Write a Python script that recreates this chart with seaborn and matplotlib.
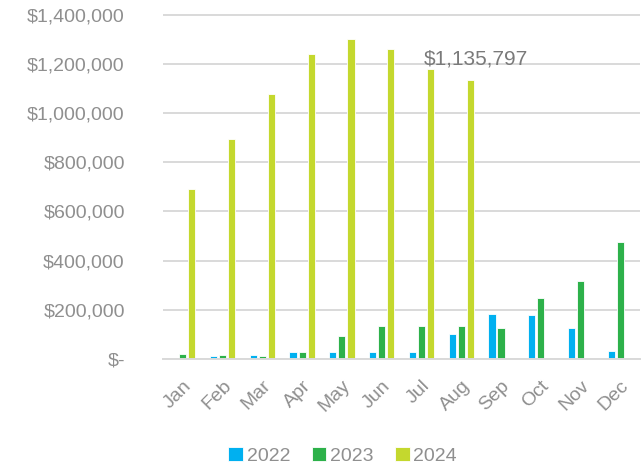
import pandas as pd
import numpy as np
import seaborn as sns
import matplotlib.pyplot as plt
from matplotlib.ticker import FuncFormatter

months = ['Jan', 'Feb', 'Mar', 'Apr', 'May', 'Jun', 'Jul', 'Aug', 'Sep', 'Oct', 'Nov', 'Dec']
sales_2022 = [3000, 12000, 18000, 30000, 28000, 28000, 28000, 101000, 181000, 177000, 125000, 31000]
sales_2023 = [20000, 18000, 12000, 27000, 94000, 135000, 133000, 133000, 127000, 246000, 318000, 476000]
sales_2024 = [690000, 893000, 1079000, 1238000, 1299000, 1259000, 1177000, 1135797,
              np.nan, np.nan, np.nan, np.nan]
years = ['2022', '2023', '2024']
colors = ['#00B0F0', '#2DB14A', '#C4D82E']
label_text = '$1,135,797'

df = pd.DataFrame({
    'Month': months * 3,
    'Year': ['2022'] * 12 + ['2023'] * 12 + ['2024'] * 12,
    'Sales': sales_2022 + sales_2023 + sales_2024,
})

sns.set_style('white')
plt.rcParams['font.family'] = ['Liberation Sans', 'DejaVu Sans']
gray = '#8f8f8f'

fig = plt.figure(figsize=(6.44, 4.69), dpi=100)
ax = fig.add_axes([0.253, 0.2345, 0.741, 0.7355])

sns.barplot(data=df, x='Month', y='Sales', hue='Year', hue_order=years,
            palette=colors, width=0.68, gap=0.2, ax=ax,
            edgecolor='white', linewidth=0.6, saturation=1, legend=True)

ax.set_ylim(0, 1402000)
ax.set_xlim(-0.5, 11.5)
ax.set_yticks(np.arange(0, 1400001, 200000))
ax.yaxis.set_major_formatter(FuncFormatter(lambda v, p: '$-' if v == 0 else f'${v:,.0f}'))
ax.grid(axis='y', color='#d9d9d9', linewidth=1.4)
ax.set_axisbelow(True)
for s in ['top', 'right', 'left']:
    ax.spines[s].set_visible(False)
ax.spines['bottom'].set_color('#d9d9d9')
ax.spines['bottom'].set_linewidth(1.4)

ax.tick_params(axis='y', length=0, pad=27.5, labelsize=14, labelcolor=gray)
ax.tick_params(axis='x', length=0, pad=13, labelsize=14, labelcolor=gray)
plt.setp(ax.get_xticklabels(), rotation=45, ha='right', rotation_mode='anchor')
ax.set_xlabel('')
ax.set_ylabel('')

ax.text(7.37, 1180000, label_text, ha='center', va='bottom', fontsize=15, color='#7a7a7a')

handles, labels = ax.get_legend_handles_labels()
ax.legend(handles, labels, loc='center', bbox_to_anchor=(0.532, 0.028), bbox_transform=fig.transFigure,
          ncol=3, frameon=False, fontsize=14, labelcolor=gray,
          handlelength=0.75, handleheight=0.75, handletextpad=0.2, columnspacing=1.1)

fig.savefig('out.png', dpi=100)
